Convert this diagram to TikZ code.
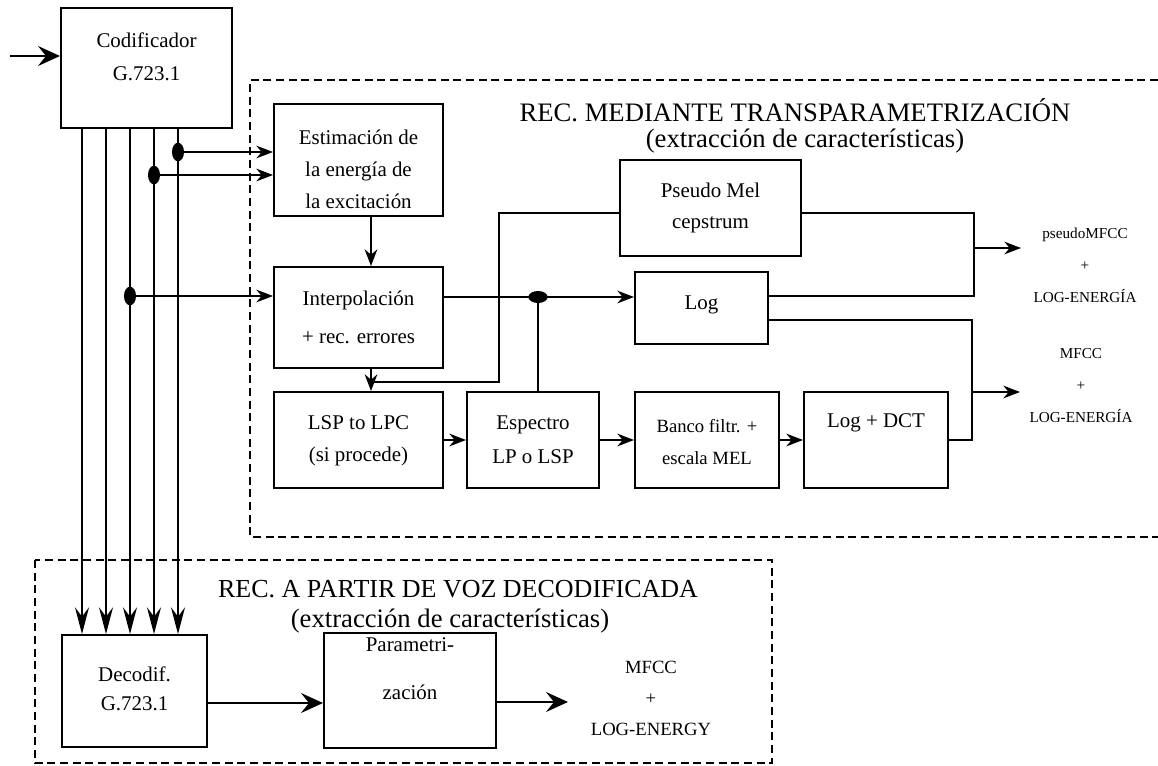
\documentclass[tikz,border=0pt]{standalone}
\usepackage{fontspec}
\setmainfont{Liberation Serif}
\usetikzlibrary{arrows.meta,shapes.geometric}
\begin{document}
\begin{tikzpicture}[x=0.75pt,y=-0.75pt,
  line width=1.4pt,
  box/.style={draw,line width=1.5pt,inner sep=0pt},
  txt/.style={align=center,inner sep=0pt,font=\fontsize{15.7}{24}\selectfont},
  lab/.style={align=center,inner sep=0pt,font=\fontsize{11.4}{24}\selectfont},
  labb/.style={align=center,inner sep=0pt,font=\fontsize{14}{23.25}\selectfont},
  ttl/.style={inner sep=0pt,anchor=base,font=\fontsize{20}{24}\selectfont},
  arr/.style={-{Stealth[length=12.5pt,width=9.5pt,inset=4pt]}},
  arrlong/.style={-{Stealth[length=20pt,width=10.5pt,inset=7pt]}},
  arrbig/.style={-{Stealth[length=16.5pt,width=15pt,inset=6pt]}},
  vdot/.style={ellipse,fill,draw=none,inner sep=0pt,minimum width=9pt,minimum height=14pt},
  hdot/.style={ellipse,fill,draw=none,inner sep=0pt,minimum width=14.5pt,minimum height=9pt},
  frame/.style={dash pattern=on 6pt off 3.5pt,line width=1.1pt},
]
\useasboundingbox (0,0) rectangle (1158,765);

% frames
\draw[frame] (1158,80) -- (250,80) -- (250,537) -- (1158,537);
\draw[frame] (35,560) rectangle (772,763);

% titles
\node[ttl] (t1) at (795,121) {REC. MEDIANTE TRANSPARAMETRIZACIÓN};
\node[ttl] (t1s) at (805,147) {(extracción de características)};
\node[ttl,font=\fontsize{19.5}{24}\selectfont] (t2) at (458,597) {REC. A PARTIR DE VOZ DECODIFICADA};
\node[ttl] (t2s) at (450,627) {(extracción de características)};

% boxes
\node[box,minimum width=128.25pt,minimum height=90pt] (cod) at (146.5,68) {};
\node[txt,font=\fontsize{15.7}{24.75}\selectfont] (codt) at (146.5,56.5) {Codificador\\G.723.1};

\node[box,minimum width=126.75pt,minimum height=84pt] (est) at (358.5,160) {};
\node[txt] (estt) at (358.5,169) {Estimación de\\la energía de\\la excitación};

\node[box,minimum width=126.75pt,minimum height=75.75pt] (interp) at (358.5,317.5) {};
\node[txt,font=\fontsize{15.7}{28.5}\selectfont] (interpt) at (358.5,317) {Interpolación\\+ rec. errores};

\node[box,minimum width=135.75pt,minimum height=72pt] (pm) at (710.5,208) {};
\node[txt,font=\fontsize{15.7}{23.25}\selectfont] (pmt) at (710.5,207.5) {Pseudo Mel\\cepstrum};

\node[box,minimum width=99.75pt,minimum height=54pt] (log) at (701.5,308) {};
\node[txt] (logt) at (701.5,305) {Log};

\node[box,minimum width=126.75pt,minimum height=72pt] (lsp) at (358.5,440) {};
\node[txt] (lspt) at (358.5,441) {LSP to LPC\\(si procede)};

\node[box,minimum width=99pt,minimum height=72pt] (esp) at (533,440) {};
\node[txt,font=\fontsize{15.7}{25.5}\selectfont] (espt) at (533,440) {Espectro\\LP o LSP};

\node[box,minimum width=108pt,minimum height=72pt] (banco) at (707,440) {};
\node[txt,font=\fontsize{14}{24}\selectfont] (bancot) at (707,442) {Banco filtr. +\\escala MEL};

\node[box,minimum width=108pt,minimum height=72pt] (ld) at (876,440) {};
\node[txt] (ldt) at (876,423) {Log + DCT};

\node[box,minimum width=108.75pt,minimum height=84pt] (dec) at (134.5,691) {};
\node[txt,font=\fontsize{15.7}{21.75}\selectfont] (dect) at (134.5,688.5) {Decodif.\\G.723.1};

\node[box,minimum width=129pt,minimum height=86.25pt] (param) at (410,690.5) {};
\node[txt,font=\fontsize{15.7}{36}\selectfont] (paramt) at (410,669) {Parametri-\\zación};

% output labels
\node[lab] (o1) at (1085,265) {pseudoMFCC\\+\\LOG-ENERGÍA};
\node[lab] (o2) at (1081,386) {MFCC\\+\\LOG-ENERGÍA};
\node[labb] (o3) at (651,698) {MFCC\\+\\LOG-ENERGY};

% input
\coordinate (in0) at (10,56);
\draw[arrbig] (in0) -- (in0 -| cod.west);

% vertical bus
\foreach \x [count=\i] in {82,106,130,154,178} \coordinate (v\i) at (\x,0);
\foreach \i in {1,...,5} \draw[arrlong] (v\i |- cod.south) -- (v\i |- dec.north);

\node[vdot] (j1) at (178,152) {};
\node[vdot] (j2) at (154,175) {};
\node[vdot] (j3) at (130,296) {};
\draw[arr] (j1.center) -- (j1 -| est.west);
\draw[arr] (j2.center) -- (j2 -| est.west);
\draw[arr] (j3.center) -- (j3 -| interp.west);

\coordinate (a1) at (371,0);
\draw[arr] (a1 |- est.south) -- (a1 |- interp.north);
\draw[arr] (a1 |- interp.south) -- (a1 |- lsp.north);

\coordinate (r1) at (0,297);
\draw[arr] (interp.east |- r1) -- (log.west |- r1);
\node[hdot] (hj) at (538,297) {};
\draw (hj.center) -- (hj |- esp.north);

\coordinate (p1) at (499,213);
\coordinate (p2) at (499,382);
\draw (pm.west |- p1) -- (p1) -- (p2) -- (a1 |- p2);

\coordinate (q1) at (974,213);
\coordinate (q2) at (974,296);
\coordinate (q3) at (974,248);
\coordinate (e1) at (1021,248);
\draw (pm.east |- q1) -- (q1) -- (q2) -- (log.east |- q2);
\draw[arr] (q3) -- (e1);

\coordinate (s1) at (972,320);
\coordinate (s2) at (972,392);
\coordinate (e2) at (1020,392);
\draw (log.east |- s1) -- (s1) -- (s1 |- ld.east) -- (ld.east);
\draw[arr] (s2) -- (e2);

\draw[arr] (lsp.east) -- (esp.west);
\draw[arr] (esp.east) -- (banco.west);
\draw[arr] (banco.east) -- (ld.west);

\coordinate (b1) at (0,703);
\draw[arrbig] (dec.east |- b1) -- (param.west |- b1);
\coordinate (e3) at (568,702);
\draw[arrbig] (param.east |- e3) -- (e3);
\end{tikzpicture}
\end{document}
